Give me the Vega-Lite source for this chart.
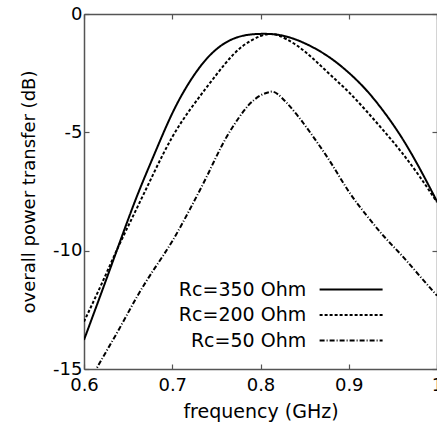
{
  "$schema": "https://vega.github.io/schema/vega-lite/v6.json",
  "width": 353,
  "height": 355,
  "autosize": {"type": "none"},
  "padding": {"left": 84, "top": 14, "right": 0, "bottom": 57},
  "background": "white",
  "config": {
    "view": {"stroke": null},
    "font": "DejaVu Sans",
    "axis": {
      "labelFont": "DejaVu Sans", "titleFont": "DejaVu Sans",
      "labelFontSize": 18, "titleFontSize": 18, "titleFontWeight": "normal",
      "labelColor": "black", "titleColor": "black",
      "domainColor": "#555", "tickColor": "#555", "domainWidth": 1.5, "tickWidth": 1.2,
      "tickSize": -5, "grid": false
    },
    "legend": {
      "labelFont": "DejaVu Sans", "labelFontSize": 19, "labelColor": "black"
    }
  },
  "data": {"values": [
    {"f": 0.60, "db": -13.77, "s": "Rc=350 Ohm"},
    {"f": 0.62, "db": -11.75, "s": "Rc=350 Ohm"},
    {"f": 0.64, "db": -9.7, "s": "Rc=350 Ohm"},
    {"f": 0.66, "db": -7.7, "s": "Rc=350 Ohm"},
    {"f": 0.68, "db": -5.9, "s": "Rc=350 Ohm"},
    {"f": 0.70, "db": -4.2, "s": "Rc=350 Ohm"},
    {"f": 0.72, "db": -2.85, "s": "Rc=350 Ohm"},
    {"f": 0.74, "db": -1.85, "s": "Rc=350 Ohm"},
    {"f": 0.76, "db": -1.22, "s": "Rc=350 Ohm"},
    {"f": 0.78, "db": -0.92, "s": "Rc=350 Ohm"},
    {"f": 0.80, "db": -0.84, "s": "Rc=350 Ohm"},
    {"f": 0.82, "db": -0.88, "s": "Rc=350 Ohm"},
    {"f": 0.84, "db": -1.08, "s": "Rc=350 Ohm"},
    {"f": 0.86, "db": -1.42, "s": "Rc=350 Ohm"},
    {"f": 0.88, "db": -1.88, "s": "Rc=350 Ohm"},
    {"f": 0.90, "db": -2.48, "s": "Rc=350 Ohm"},
    {"f": 0.92, "db": -3.22, "s": "Rc=350 Ohm"},
    {"f": 0.94, "db": -4.14, "s": "Rc=350 Ohm"},
    {"f": 0.96, "db": -5.22, "s": "Rc=350 Ohm"},
    {"f": 0.98, "db": -6.5, "s": "Rc=350 Ohm"},
    {"f": 1.00, "db": -7.92, "s": "Rc=350 Ohm"},
    {"f": 0.60, "db": -13.0, "s": "Rc=200 Ohm"},
    {"f": 0.62, "db": -11.4, "s": "Rc=200 Ohm"},
    {"f": 0.64, "db": -9.75, "s": "Rc=200 Ohm"},
    {"f": 0.66, "db": -8.2, "s": "Rc=200 Ohm"},
    {"f": 0.68, "db": -6.65, "s": "Rc=200 Ohm"},
    {"f": 0.70, "db": -5.2, "s": "Rc=200 Ohm"},
    {"f": 0.72, "db": -4.05, "s": "Rc=200 Ohm"},
    {"f": 0.74, "db": -3.05, "s": "Rc=200 Ohm"},
    {"f": 0.76, "db": -2.1, "s": "Rc=200 Ohm"},
    {"f": 0.78, "db": -1.35, "s": "Rc=200 Ohm"},
    {"f": 0.80, "db": -0.93, "s": "Rc=200 Ohm"},
    {"f": 0.81, "db": -0.85, "s": "Rc=200 Ohm"},
    {"f": 0.82, "db": -0.9, "s": "Rc=200 Ohm"},
    {"f": 0.84, "db": -1.3, "s": "Rc=200 Ohm"},
    {"f": 0.86, "db": -1.9, "s": "Rc=200 Ohm"},
    {"f": 0.88, "db": -2.6, "s": "Rc=200 Ohm"},
    {"f": 0.90, "db": -3.3, "s": "Rc=200 Ohm"},
    {"f": 0.92, "db": -4.1, "s": "Rc=200 Ohm"},
    {"f": 0.94, "db": -4.95, "s": "Rc=200 Ohm"},
    {"f": 0.96, "db": -5.85, "s": "Rc=200 Ohm"},
    {"f": 0.98, "db": -6.85, "s": "Rc=200 Ohm"},
    {"f": 1.00, "db": -7.95, "s": "Rc=200 Ohm"},
    {"f": 0.60, "db": -15.95, "s": "Rc=50 Ohm"},
    {"f": 0.62, "db": -14.6, "s": "Rc=50 Ohm"},
    {"f": 0.64, "db": -13.3, "s": "Rc=50 Ohm"},
    {"f": 0.66, "db": -11.95, "s": "Rc=50 Ohm"},
    {"f": 0.68, "db": -10.75, "s": "Rc=50 Ohm"},
    {"f": 0.70, "db": -9.6, "s": "Rc=50 Ohm"},
    {"f": 0.72, "db": -8.25, "s": "Rc=50 Ohm"},
    {"f": 0.74, "db": -6.8, "s": "Rc=50 Ohm"},
    {"f": 0.76, "db": -5.3, "s": "Rc=50 Ohm"},
    {"f": 0.78, "db": -4.15, "s": "Rc=50 Ohm"},
    {"f": 0.79, "db": -3.72, "s": "Rc=50 Ohm"},
    {"f": 0.80, "db": -3.44, "s": "Rc=50 Ohm"},
    {"f": 0.81, "db": -3.3, "s": "Rc=50 Ohm"},
    {"f": 0.82, "db": -3.4, "s": "Rc=50 Ohm"},
    {"f": 0.84, "db": -4.2, "s": "Rc=50 Ohm"},
    {"f": 0.86, "db": -5.2, "s": "Rc=50 Ohm"},
    {"f": 0.88, "db": -6.3, "s": "Rc=50 Ohm"},
    {"f": 0.90, "db": -7.5, "s": "Rc=50 Ohm"},
    {"f": 0.92, "db": -8.5, "s": "Rc=50 Ohm"},
    {"f": 0.94, "db": -9.4, "s": "Rc=50 Ohm"},
    {"f": 0.96, "db": -10.2, "s": "Rc=50 Ohm"},
    {"f": 0.98, "db": -11.05, "s": "Rc=50 Ohm"},
    {"f": 1.00, "db": -11.9, "s": "Rc=50 Ohm"}
  ]},
  "layer": [
    {
      "mark": {"type": "line", "interpolate": "natural", "clip": true, "color": "black", "strokeWidth": 2},
      "encoding": {
        "x": {"field": "f", "type": "quantitative", "scale": {"domain": [0.6, 1.0], "nice": false, "zero": false},
              "axis": {"orient": "bottom", "values": [0.6, 0.7, 0.8, 0.9, 1.0], "labelExpr": "'' + datum.value", "title": "frequency (GHz)", "titleFontSize": 19, "labelPadding": 12, "titlePadding": 8, "labelFlush": false}},
        "y": {"field": "db", "type": "quantitative", "scale": {"domain": [-15, 0], "nice": false, "zero": false},
              "axis": {"orient": "left", "values": [-15, -10, -5, 0], "labelExpr": "'' + datum.value", "title": "overall power transfer (dB)", "labelPadding": 7, "titlePadding": 14}},
        "strokeDash": {"field": "s", "type": "nominal",
          "scale": {"domain": ["Rc=350 Ohm", "Rc=200 Ohm", "Rc=50 Ohm"], "range": [[1, 0], [3, 2], [5, 2, 1, 2]]},
          "legend": {"title": null, "orient": "none", "legendX": 257.6, "legendY": 266, "padding": 0, "offset": 0,
                     "symbolType": "M-4,0H4", "symbolSize": 248, "symbolStrokeWidth": 2, "symbolStrokeColor": "black",
                     "labelAlign": "right", "labelOffset": -54.4, "rowPadding": 5.5}}
      }
    },
    {
      "mark": {"type": "line", "opacity": 0, "clip": true},
      "encoding": {
        "x": {"field": "f", "type": "quantitative", "scale": {"domain": [0.6, 1.0], "nice": false, "zero": false},
              "axis": {"orient": "top", "values": [0.6, 0.7, 0.8, 0.9, 1.0], "labels": false, "title": null}},
        "y": {"field": "db", "type": "quantitative", "scale": {"domain": [-15, 0], "nice": false, "zero": false},
              "axis": {"orient": "right", "values": [-15, -10, -5, 0], "labels": false, "title": null}},
        "detail": {"field": "s"}
      }
    }
  ],
  "resolve": {"axis": {"x": "independent", "y": "independent"}}
}
